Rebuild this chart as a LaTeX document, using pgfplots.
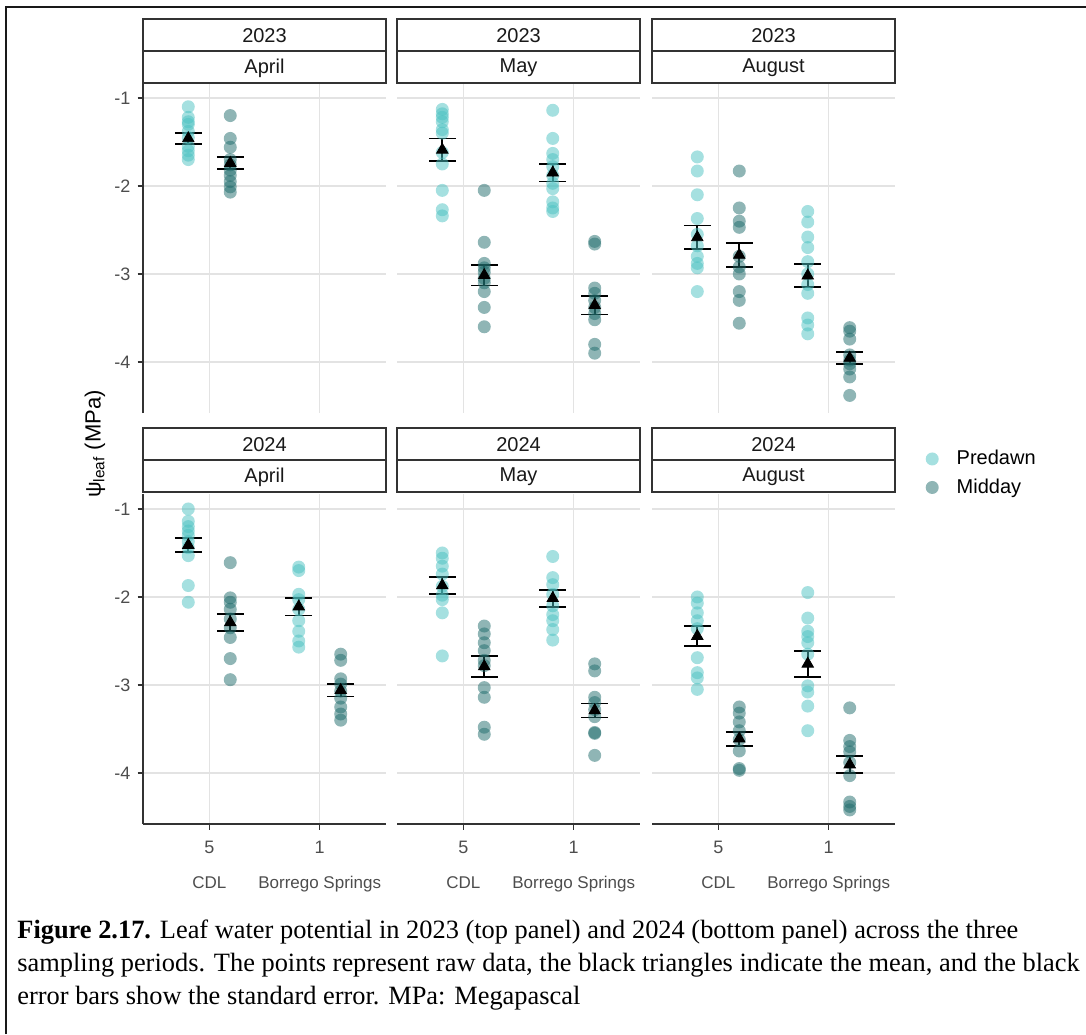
\documentclass[border=0pt]{standalone}
\usepackage{pgfplots}
\pgfplotsset{compat=1.18}
\usepackage{fontspec}
\setmainfont{Liberation Sans}
\newfontfamily\capfont{Liberation Serif}
\definecolor{predawn}{RGB}{75,193,193}
\definecolor{midday}{RGB}{31,107,107}
\definecolor{axgray}{HTML}{333333}
\definecolor{tickgray}{HTML}{4D4D4D}
\definecolor{gridgray}{HTML}{E3E3E3}
\pgfplotsset{
 panel/.style={scale only axis, width=121.5pt, height=165pt, anchor=south west,
   xmin=0.4, xmax=2.6, ymin=-4.58, ymax=-0.83,
   xtick={1,2}, ytick={-1,-2,-3,-4}, xticklabels={}, yticklabels={},
   axis lines*=left, axis line style={-, draw=axgray, line width=0.75pt},
   tick align=outside, major tick length=2.75pt, tick style={draw=axgray, line width=0.6pt},
   grid=major, major grid style={draw=gridgray, line width=0.55pt},
   ticklabel style={font=\fontsize{9}{11}\selectfont, text=tickgray},
   clip=false},
 toprow/.style={xmajorticks=false, x axis line style={draw=none}},
 inner/.style={ymajorticks=false, y axis line style={draw=none}},
 firstcol/.style={yticklabels={-1,-2,-3,-4}},
 botrow/.style={xticklabels={{5\\[6.5pt]{\fontsize{8.5}{10}\selectfont CDL}},{1\\[6.5pt]{\fontsize{8.5}{10}\selectfont Borrego Springs}}},
   xticklabel style={align=center, yshift=-2.5pt}},
 pre/.style={only marks, mark=*, mark size=3.25pt, mark options={draw opacity=0, fill=predawn, fill opacity=0.5}},
 mid/.style={only marks, mark=*, mark size=3.25pt, mark options={draw opacity=0, fill=midday, fill opacity=0.5}},
 mean/.style={forget plot, only marks, mark=triangle*, mark size=3.3pt, mark options={fill=black, draw=black},
   error bars/.cd, y dir=both, y explicit, error bar style={line width=0.9pt, black},
   error mark options={rotate=90, line width=0.9pt, mark size=6.75pt, black}},
}
\begin{document}
\begin{tikzpicture}
\path[use as bounding box] (0,0) rectangle (543pt,-517pt);
% frame
\draw[line width=1.2pt, black!90] (3pt,-517pt) -- (3pt,-3.5pt) -- (543pt,-3.5pt);

% ---------- 2023 April
\begin{axis}[panel, toprow, firstcol, at={(71.5pt,-206.5pt)}]
\addplot[pre] coordinates {(0.81,-1.10)(0.81,-1.22)(0.81,-1.27)(0.81,-1.30)(0.81,-1.38)(0.81,-1.45)(0.81,-1.55)(0.81,-1.60)(0.81,-1.65)(0.81,-1.70)};
\addplot[mid] coordinates {(1.19,-1.20)(1.19,-1.46)(1.19,-1.56)(1.19,-1.70)(1.19,-1.76)(1.19,-1.82)(1.19,-1.88)(1.19,-1.95)(1.19,-2.01)(1.19,-2.07)};
\addplot[mean] coordinates {(0.81,-1.46) +- (0,0.06) (1.19,-1.74) +- (0,0.07)};
\end{axis}
% ---------- 2023 May
\begin{axis}[panel, toprow, inner, at={(198.5pt,-206.5pt)}]
\addplot[pre] coordinates {(0.81,-1.13)(0.81,-1.18)(0.81,-1.22)(0.81,-1.27)(0.81,-1.36)(0.81,-1.40)(0.81,-1.62)(0.81,-1.75)(0.81,-2.05)(0.81,-2.27)(0.81,-2.34)
 (1.81,-1.14)(1.81,-1.46)(1.81,-1.63)(1.81,-1.70)(1.81,-1.78)(1.81,-1.88)(1.81,-1.97)(1.81,-2.03)(1.81,-2.18)(1.81,-2.25)(1.81,-2.29)};
\addplot[mid] coordinates {(1.19,-2.05)(1.19,-2.64)(1.19,-2.88)(1.19,-2.93)(1.19,-2.98)(1.19,-3.05)(1.19,-3.10)(1.19,-3.20)(1.19,-3.38)(1.19,-3.60)
 (2.19,-2.63)(2.19,-2.66)(2.19,-3.16)(2.19,-3.22)(2.19,-3.30)(2.19,-3.38)(2.19,-3.45)(2.19,-3.52)(2.19,-3.80)(2.19,-3.90)};
\addplot[mean] coordinates {(0.81,-1.59) +- (0,0.13) (1.19,-3.015) +- (0,0.115) (1.81,-1.85) +- (0,0.10) (2.19,-3.355) +- (0,0.105)};
\end{axis}
% ---------- 2023 August
\begin{axis}[panel, toprow, inner, at={(326pt,-206.5pt)}]
\addplot[pre] coordinates {(0.81,-1.67)(0.81,-1.83)(0.81,-2.10)(0.81,-2.37)(0.81,-2.55)(0.81,-2.68)(0.81,-2.80)(0.81,-2.88)(0.81,-2.93)(0.81,-3.20)
 (1.81,-2.29)(1.81,-2.41)(1.81,-2.58)(1.81,-2.70)(1.81,-2.86)(1.81,-3.00)(1.81,-3.12)(1.81,-3.22)(1.81,-3.50)(1.81,-3.58)(1.81,-3.68)};
\addplot[mid] coordinates {(1.19,-1.83)(1.19,-2.25)(1.19,-2.40)(1.19,-2.47)(1.19,-2.80)(1.19,-2.92)(1.19,-3.00)(1.19,-3.20)(1.19,-3.30)(1.19,-3.56)
 (2.19,-3.61)(2.19,-3.65)(2.19,-3.74)(2.19,-3.92)(2.19,-3.98)(2.19,-4.02)(2.19,-4.08)(2.19,-4.17)(2.19,-4.38)};
\addplot[mean] coordinates {(0.81,-2.585) +- (0,0.135) (1.19,-2.785) +- (0,0.135) (1.81,-3.02) +- (0,0.13) (2.19,-3.955) +- (0,0.065)};
\end{axis}
% ---------- 2024 April
\begin{axis}[panel, firstcol, botrow, at={(71.5pt,-412pt)}]
\addplot[pre] coordinates {(0.81,-1.00)(0.81,-1.14)(0.81,-1.20)(0.81,-1.25)(0.81,-1.30)(0.81,-1.37)(0.81,-1.44)(0.81,-1.53)(0.81,-1.87)(0.81,-2.06)
 (1.81,-1.66)(1.81,-1.70)(1.81,-1.97)(1.81,-2.03)(1.81,-2.14)(1.81,-2.27)(1.81,-2.39)(1.81,-2.50)(1.81,-2.57)};
\addplot[mid] coordinates {(1.19,-1.61)(1.19,-2.01)(1.19,-2.06)(1.19,-2.14)(1.19,-2.25)(1.19,-2.35)(1.19,-2.46)(1.19,-2.70)(1.19,-2.94)
 (2.19,-2.65)(2.19,-2.72)(2.19,-2.93)(2.19,-2.99)(2.19,-3.07)(2.19,-3.15)(2.19,-3.25)(2.19,-3.33)(2.19,-3.40)};
\addplot[mean] coordinates {(0.81,-1.41) +- (0,0.08) (1.19,-2.29) +- (0,0.10) (1.81,-2.11) +- (0,0.10) (2.19,-3.06) +- (0,0.07)};
\end{axis}
% ---------- 2024 May
\begin{axis}[panel, inner, botrow, at={(198.5pt,-412pt)}]
\addplot[pre] coordinates {(0.81,-1.50)(0.81,-1.56)(0.81,-1.65)(0.81,-1.74)(0.81,-1.88)(0.81,-1.98)(0.81,-2.03)(0.81,-2.18)(0.81,-2.67)
 (1.81,-1.54)(1.81,-1.78)(1.81,-1.86)(1.81,-1.97)(1.81,-2.10)(1.81,-2.20)(1.81,-2.27)(1.81,-2.37)(1.81,-2.49)};
\addplot[mid] coordinates {(1.19,-2.33)(1.19,-2.42)(1.19,-2.52)(1.19,-2.61)(1.19,-2.72)(1.19,-2.78)(1.19,-3.03)(1.19,-3.14)(1.19,-3.48)(1.19,-3.56)
 (2.19,-2.76)(2.19,-2.84)(2.19,-3.14)(2.19,-3.20)(2.19,-3.28)(2.19,-3.36)(2.19,-3.54)(2.19,-3.55)(2.19,-3.80)};
\addplot[mean] coordinates {(0.81,-1.87) +- (0,0.10) (1.19,-2.79) +- (0,0.12) (1.81,-2.015) +- (0,0.095) (2.19,-3.29) +- (0,0.08)};
\end{axis}
% ---------- 2024 August
\begin{axis}[panel, inner, botrow, at={(326pt,-412pt)},
   legend style={at={(1.10,1.063)}, anchor=west, draw=none, fill=none,
     font=\fontsize{10}{12}\selectfont, row sep=2.5pt, nodes={inner sep=1.5pt},
     /tikz/every odd column/.append style={column sep=7.5pt}},
   legend cell align=left]
\addplot[pre] coordinates {(0.81,-2.00)(0.81,-2.07)(0.81,-2.18)(0.81,-2.27)(0.81,-2.36)(0.81,-2.69)(0.81,-2.86)(0.81,-2.92)(0.81,-3.05)
 (1.81,-1.95)(1.81,-2.24)(1.81,-2.39)(1.81,-2.45)(1.81,-2.52)(1.81,-2.65)(1.81,-3.01)(1.81,-3.08)(1.81,-3.24)(1.81,-3.52)};
\addlegendentry{Predawn}
\addplot[mid] coordinates {(1.19,-3.25)(1.19,-3.32)(1.19,-3.42)(1.19,-3.52)(1.19,-3.62)(1.19,-3.75)(1.19,-3.95)(1.19,-3.97)
 (2.19,-3.26)(2.19,-3.63)(2.19,-3.70)(2.19,-3.76)(2.19,-3.88)(2.19,-4.03)(2.19,-4.33)(2.19,-4.38)(2.19,-4.42)};
\addlegendentry{Midday}
\addplot[mean] coordinates {(0.81,-2.445) +- (0,0.115) (1.19,-3.61) +- (0,0.08) (1.81,-2.76) +- (0,0.15) (2.19,-3.905) +- (0,0.095)};
\end{axis}

% strips
\foreach \x/\yr/\mo/\yt in {71.5/2023/April/9.5, 198.5/2023/May/9.5, 326/2023/August/9.5,
                             71.5/2024/April/214, 198.5/2024/May/214, 326/2024/August/214}{
  \draw[axgray, line width=0.75pt, fill=white] (\x pt,-\yt pt) rectangle ++(121.5pt,-16pt);
  \draw[axgray, line width=0.75pt, fill=white] (\x pt,-\yt pt-16pt) rectangle ++(121.5pt,-16pt);
  \node[font=\fontsize{10}{12}\selectfont, text=black!90, anchor=center] at (\x pt+60.75pt,-\yt pt-8.5pt) {\yr};
  \node[font=\fontsize{10}{12}\selectfont, text=black!90, anchor=center] at (\x pt+60.75pt,-\yt pt-24.5pt) {\mo};
}
% y label
\node[rotate=90, font=\fontsize{11}{13}\selectfont, anchor=center] at (47.5pt,-222pt) {ψ\textsubscript{leaf} (MPa)};

% caption
\node[anchor=base west, inner sep=0pt, font=\capfont\fontsize{13.2}{15}\selectfont] at (8.5pt,-469pt)
  {\textbf{Figure 2.17.} Leaf water potential in 2023 (top panel) and 2024 (bottom panel) across the three};
\node[anchor=base west, inner sep=0pt, font=\capfont\fontsize{13.2}{15}\selectfont] at (8.5pt,-485.5pt)
  {sampling periods. The points represent raw data, the black triangles indicate the mean, and the black};
\node[anchor=base west, inner sep=0pt, font=\capfont\fontsize{13.2}{15}\selectfont] at (8.5pt,-502pt)
  {error bars show the standard error. MPa: Megapascal};
\end{tikzpicture}
\end{document}
